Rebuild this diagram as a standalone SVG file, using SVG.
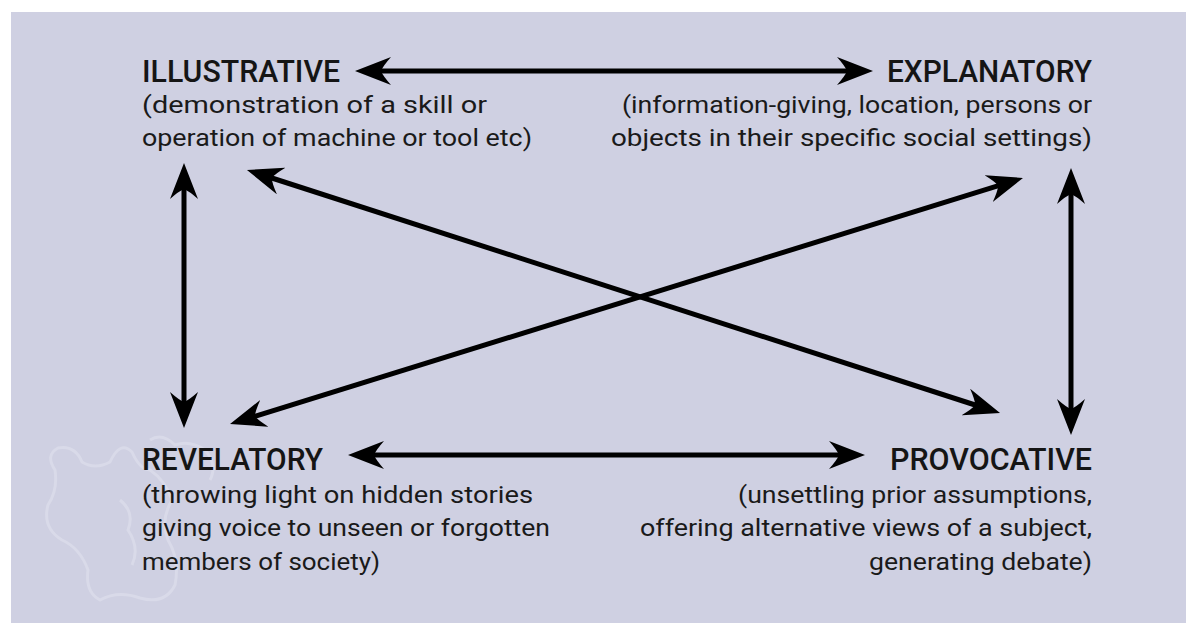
<svg xmlns="http://www.w3.org/2000/svg" width="1186" height="626" viewBox="0 0 1186 626">
  <style>
    .title { font-family: Roboto, "Noto Sans", sans-serif; font-size: 31px; font-weight: 500; fill: #151515; }
    .body { font-family: Roboto, "Noto Sans", sans-serif; font-size: 24px; fill: #1a1a1a; }
    .end { text-anchor: end; }
    .link { stroke: #000; stroke-width: 5; fill: none; marker-start: url(#head); marker-end: url(#head); }
  </style>
  <defs>
    <!-- barbed arrowhead; the line stops 18px short of the tip -->
    <marker id="head" viewBox="0 0 36 28" refX="18" refY="14" markerWidth="36" markerHeight="28"
            markerUnits="userSpaceOnUse" orient="auto-start-reverse">
      <path d="M36,14 L0,0 Q8,9 10,14 Q8,19 0,28 Z" fill="#000"/>
    </marker>
  </defs>

  <rect width="1186" height="626" fill="#ffffff"/>
  <rect x="11" y="12" width="1175" height="611" fill="#cfd0e2"/>

  <!-- faint background emblem, lower left -->
  <g fill="none" stroke="#e2e3ef" stroke-width="3" opacity="0.55">
    <path d="M55,470 Q45,455 58,448 Q75,445 82,462 Q95,470 110,462 Q120,440 132,452 Q140,470 150,470 Q165,480 172,500 Q160,520 168,540 Q180,560 175,585 Q165,605 140,598 Q118,590 100,600 Q85,592 88,570 Q80,548 62,540 Q42,528 48,505 Q58,490 55,470 Z"/>
    <path d="M150,440 Q162,432 175,445 Q190,440 205,450 Q218,465 210,480"/>
    <path d="M120,500 Q135,512 128,530 Q140,548 132,565"/>
  </g>

  <!-- connectors -->
  <g id="connectors">
    <line class="link" x1="373" y1="71" x2="855" y2="71"/>
    <line class="link" x1="366" y1="455" x2="847" y2="455"/>
    <line class="link" x1="184" y1="181" x2="184" y2="410"/>
    <line class="link" x1="1071" y1="186" x2="1071" y2="417"/>
    <line class="link" x1="264.1" y1="175.5" x2="982.9" y2="407.5"/>
    <line class="link" x1="247.2" y1="418.7" x2="1005.8" y2="183.3"/>
  </g>

  <g id="illustrative">
    <text class="title" x="142" y="82" textLength="198" lengthAdjust="spacingAndGlyphs">ILLUSTRATIVE</text>
    <text class="body" x="142" y="113" textLength="345" lengthAdjust="spacingAndGlyphs">(demonstration of a skill or</text>
    <text class="body" x="142" y="146" textLength="390" lengthAdjust="spacingAndGlyphs">operation of machine or tool etc)</text>
  </g>

  <g id="explanatory">
    <text class="title end" x="1092" y="82" textLength="205" lengthAdjust="spacingAndGlyphs">EXPLANATORY</text>
    <text class="body end" x="1092" y="113" textLength="470" lengthAdjust="spacingAndGlyphs">(information-giving, location, persons or</text>
    <text class="body end" x="1092" y="146" textLength="481" lengthAdjust="spacingAndGlyphs">objects in their specific social settings)</text>
  </g>

  <g id="revelatory">
    <text class="title" x="142" y="470" textLength="181" lengthAdjust="spacingAndGlyphs">REVELATORY</text>
    <text class="body" x="142" y="503" textLength="391" lengthAdjust="spacingAndGlyphs">(throwing light on hidden stories</text>
    <text class="body" x="142" y="536" textLength="408" lengthAdjust="spacingAndGlyphs">giving voice to unseen or forgotten</text>
    <text class="body" x="142" y="570" textLength="238" lengthAdjust="spacingAndGlyphs">members of society)</text>
  </g>

  <g id="provocative">
    <text class="title end" x="1092" y="470" textLength="202" lengthAdjust="spacingAndGlyphs">PROVOCATIVE</text>
    <text class="body end" x="1092" y="503" textLength="354" lengthAdjust="spacingAndGlyphs">(unsettling prior assumptions,</text>
    <text class="body end" x="1092" y="536" textLength="452" lengthAdjust="spacingAndGlyphs">offering alternative views of a subject,</text>
    <text class="body end" x="1092" y="570" textLength="223" lengthAdjust="spacingAndGlyphs">generating debate)</text>
  </g>
</svg>
